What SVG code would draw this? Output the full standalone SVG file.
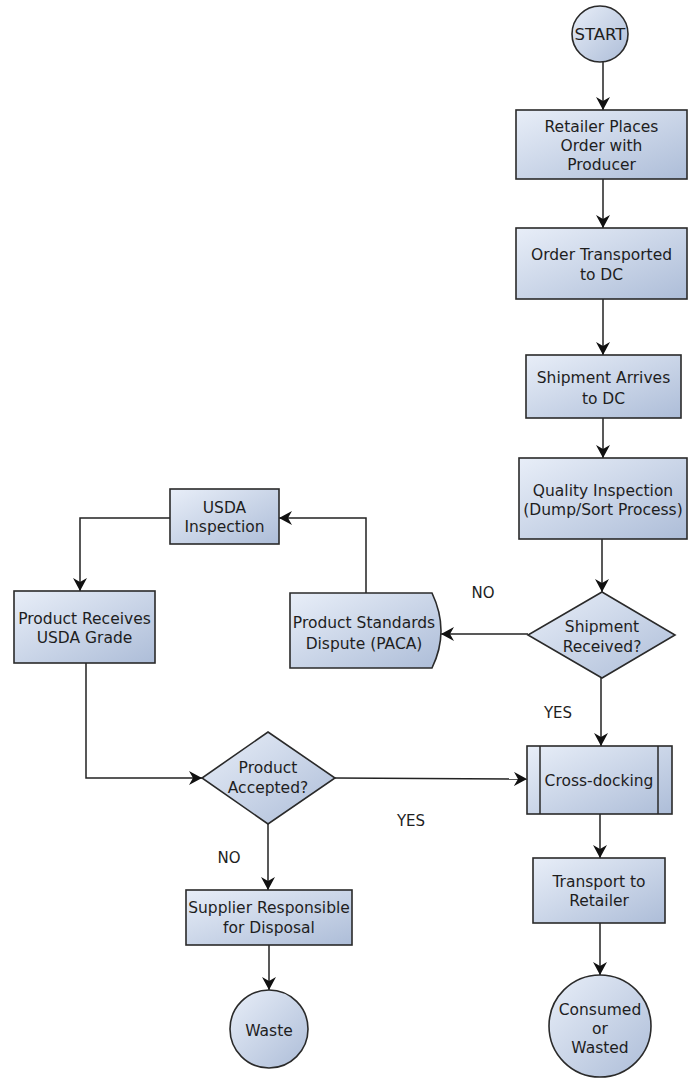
<svg xmlns="http://www.w3.org/2000/svg" width="688" height="1080" viewBox="0 0 688 1080">
<defs>
  <linearGradient id="fill" x1="0" y1="0" x2="1" y2="1">
    <stop offset="0" stop-color="#e8eef8"/>
    <stop offset="1" stop-color="#adbdd8"/>
  </linearGradient>
  <marker id="arr" markerUnits="userSpaceOnUse" markerWidth="16" markerHeight="16" refX="13" refY="7" orient="auto">
    <path d="M0,0 L13,7 L0,14 L4,7 Z" fill="#111"/>
  </marker>
  <style>
    .shape{fill:url(#fill);stroke:#2a2a2a;stroke-width:1.6}
    .conn{fill:none;stroke:#222;stroke-width:1.5;marker-end:url(#arr)}
    .plain{fill:none;stroke:#2a2a2a;stroke-width:1.5}
    text{font-family:"DejaVu Sans","Liberation Sans",sans-serif;font-size:15.5px;fill:#1e1e1e;text-anchor:middle}
    .lbl{font-size:15px}
  </style>
</defs>
<rect width="688" height="1080" fill="#ffffff"/>

<g id="connectors">
  <line class="conn" x1="603" y1="62" x2="603" y2="110"/>
  <line class="conn" x1="603" y1="179" x2="603" y2="228"/>
  <line class="conn" x1="603" y1="299" x2="603" y2="355"/>
  <line class="conn" x1="603" y1="418" x2="603" y2="458"/>
  <line class="conn" x1="602" y1="539" x2="602" y2="592"/>
  <line class="conn" x1="528" y1="634" x2="441" y2="634"/>
  <polyline class="conn" points="366,593 366,518 279,518"/>
  <polyline class="conn" points="170,518 80,518 80,591"/>
  <polyline class="conn" points="86,663 86,778 202,778"/>
  <line class="conn" x1="335" y1="778" x2="527" y2="779"/>
  <line class="conn" x1="601" y1="678" x2="601" y2="746"/>
  <line class="conn" x1="600" y1="814" x2="600" y2="858"/>
  <line class="conn" x1="600" y1="923" x2="600" y2="975"/>
  <line class="conn" x1="268" y1="824" x2="268" y2="890"/>
  <line class="conn" x1="269" y1="945" x2="269" y2="990"/>
  <text class="lbl" x="483" y="598">NO</text>
  <text class="lbl" x="558" y="718">YES</text>
  <text class="lbl" x="411" y="826">YES</text>
  <text class="lbl" x="229" y="863">NO</text>
</g>

<g id="start">
  <circle class="shape" cx="600" cy="34" r="28"/>
  <text x="600" y="40" style="font-size:16.5px">START</text>
</g>

<g id="retailer-places-order">
  <rect class="shape" x="516" y="110" width="171" height="69"/>
  <text x="601.5" y="132">Retailer Places</text>
  <text x="601.5" y="151">Order with</text>
  <text x="601.5" y="170">Producer</text>
</g>

<g id="order-transported">
  <rect class="shape" x="516" y="228" width="171" height="71"/>
  <text x="601.5" y="260">Order Transported</text>
  <text x="601.5" y="280">to DC</text>
</g>

<g id="shipment-arrives">
  <rect class="shape" x="526" y="355" width="155" height="63"/>
  <text x="603.5" y="383">Shipment Arrives</text>
  <text x="603.5" y="404">to DC</text>
</g>

<g id="quality-inspection">
  <rect class="shape" x="519" y="458" width="168" height="81"/>
  <text x="603" y="496">Quality Inspection</text>
  <text x="603" y="515">(Dump/Sort Process)</text>
</g>

<g id="shipment-received">
  <polygon class="shape" points="602,592 675,635 602,678 528,635"/>
  <text x="602" y="632">Shipment</text>
  <text x="602" y="652">Received?</text>
</g>

<g id="paca-dispute">
  <path class="shape" d="M290,593 H432 Q450,631 432,668 H290 Z"/>
  <text x="364" y="628">Product Standards</text>
  <text x="364" y="649">Dispute (PACA)</text>
</g>

<g id="usda-inspection">
  <rect class="shape" x="170" y="489" width="109" height="55"/>
  <text x="224.5" y="513">USDA</text>
  <text x="224.5" y="532">Inspection</text>
</g>

<g id="usda-grade">
  <rect class="shape" x="14" y="591" width="141" height="72"/>
  <text x="84.5" y="624">Product Receives</text>
  <text x="84.5" y="643">USDA Grade</text>
</g>

<g id="product-accepted">
  <polygon class="shape" points="268,732 335,778 268,824 202,778"/>
  <text x="268" y="773">Product</text>
  <text x="268" y="793">Accepted?</text>
</g>

<g id="cross-docking">
  <rect class="shape" x="527" y="746" width="145" height="68"/>
  <line class="plain" x1="540" y1="746" x2="540" y2="814"/>
  <line class="plain" x1="658" y1="746" x2="658" y2="814"/>
  <text x="599" y="786">Cross-docking</text>
</g>

<g id="transport-retailer">
  <rect class="shape" x="533" y="858" width="132" height="65"/>
  <text x="599" y="887">Transport to</text>
  <text x="599" y="906">Retailer</text>
</g>

<g id="consumed-wasted">
  <circle class="shape" cx="600" cy="1026" r="51"/>
  <text x="600" y="1015">Consumed</text>
  <text x="600" y="1034">or</text>
  <text x="600" y="1053">Wasted</text>
</g>

<g id="supplier-disposal">
  <rect class="shape" x="186" y="890" width="166" height="55"/>
  <text x="269" y="913">Supplier Responsible</text>
  <text x="269" y="933">for Disposal</text>
</g>

<g id="waste">
  <circle class="shape" cx="269" cy="1029" r="39"/>
  <text x="269" y="1036">Waste</text>
</g>
</svg>
